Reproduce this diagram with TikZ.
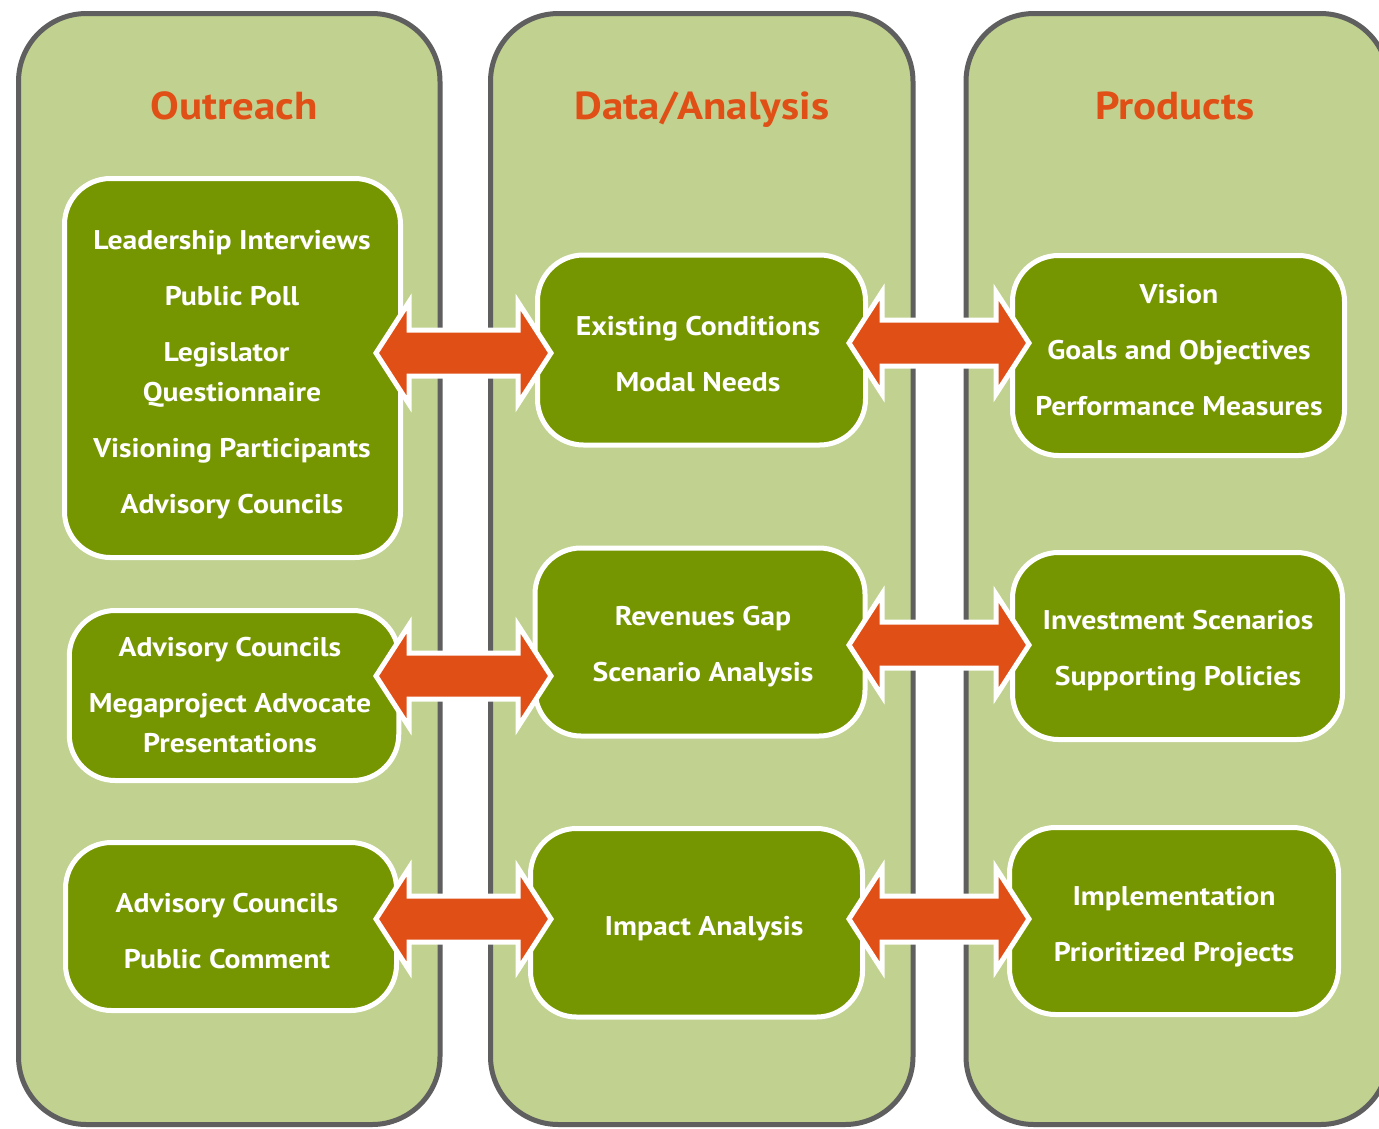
\documentclass[tikz,border=0pt]{standalone}
\usepackage{fontspec}
\setmainfont{PT Sans}[FakeStretch=1.1]
\usetikzlibrary{calc}
\definecolor{colbg}{RGB}{193,209,143}
\definecolor{boxgreen}{RGB}{117,150,0}
\definecolor{arrorange}{RGB}{224,79,22}
\definecolor{bordergray}{RGB}{95,95,95}
\tikzset{
 column/.style={draw=bordergray, line width=5pt, fill=colbg, rounded corners=68pt, inner sep=0pt},
 coltitle/.style={text=arrorange, font=\bfseries\fontsize{39}{39}\selectfont, inner sep=0pt, anchor=base},
 itembox/.style={draw=white, line width=5pt, fill=boxgreen, rounded corners=46pt, inner sep=0pt},
 itemtext/.style={text=white, align=center, font=\bfseries\fontsize{27}{40}\selectfont, inner sep=0pt, anchor=center},
 bigarrow/.style={draw=white, line width=5pt, fill=arrorange, line join=miter},
}
\newcommand{\Tx}[1]{\rule{0pt}{23.9pt}#1\rule[-5pt]{0pt}{5pt}}
\newcommand{\dblarr}[2]{\draw[bigarrow] (#1) -- ++(33,-51) -- ++(0,28) -- ($(#2)+(-33,-23)$) -- ++(0,-28) -- (#2) -- ++(-33,51) -- ++(0,-28) -- ($(#1)+(33,23)$) -- ++(0,28) -- cycle;}
\begin{document}
\begin{tikzpicture}[x=1pt,y=-1pt]
\useasboundingbox (0,0) rectangle (1379,1128);
\fill[white] (0,0) rectangle (1379,1128);
% columns
\node[column, minimum width=421.5pt, minimum height=1111pt] (c1) at (229.25,569) {};
\node[column, minimum width=422.5pt, minimum height=1111pt] (c2) at (701.75,569) {};
\node[column, minimum width=422.5pt, minimum height=1111pt] (c3) at (1177.25,569) {};
% titles
\node[coltitle] (t1) at (234,119) {Outreach};
\node[coltitle] (t2) at (702,119) {Data/Analysis};
\node[coltitle] (t3) at (1175,119) {Products};
% boxes
\node[itembox, minimum width=336pt, minimum height=379pt] (o1) at (232.5,368) {};
\node[itembox, minimum width=329.5pt, minimum height=170pt] (o2) at (234,695.5) {};
\node[itembox, minimum width=331pt, minimum height=168pt] (o3) at (231,926.5) {};
\node[itembox, minimum width=328pt, minimum height=190pt] (d1) at (701.5,350) {};
\node[itembox, minimum width=330pt, minimum height=188pt] (d2) at (700,642) {};
\node[itembox, minimum width=332pt, minimum height=188.5pt] (d3) at (696.5,922.75) {};
\node[itembox, minimum width=332pt, minimum height=200pt] (p1) at (1178.5,355.5) {};
\node[itembox, minimum width=330pt, minimum height=187pt] (p2) at (1177.5,646) {};
\node[itembox, minimum width=329pt, minimum height=187pt] (p3) at (1174,921) {};
% box texts
\node[itemtext] (o1t) at (232,372) {\Tx{Leadership Interviews\\[16pt]Public Poll\\[16pt]Legislator\rule{11pt}{0pt}\\Questionnaire\\[16pt]Visioning Participants\\[16pt]Advisory Councils}};
\node[itemtext] (o2t) at (230,695) {\Tx{Advisory Councils\\[16pt]Megaproject Advocate\\Presentations}};
\node[itemtext] (o3t) at (227,931) {\Tx{Advisory Councils\\[16pt]Public Comment}};
\node[itemtext] (d1t) at (698,354) {\Tx{Existing Conditions\\[16pt]Modal Needs}};
\node[itemtext] (d2t) at (703,644) {\Tx{Revenues Gap\\[16pt]Scenario Analysis}};
\node[itemtext] (d3t) at (704,926) {\Tx{Impact Analysis}};
\node[itemtext] (p1t) at (1179,350) {\Tx{Vision\\[16pt]Goals and Objectives\\[16pt]Performance Measures}};
\node[itemtext] (p2t) at (1178,648) {\Tx{Investment Scenarios\\[16pt]Supporting Policies}};
\node[itemtext] (p3t) at (1174,924) {\Tx{Implementation\\[16pt]Prioritized Projects}};
% arrow tips
\coordinate (a1l) at (376,353); \coordinate (a1r) at (551,353);
\coordinate (b1l) at (849,343); \coordinate (b1r) at (1029,343);
\coordinate (a2l) at (376,676); \coordinate (a2r) at (551,676);
\coordinate (b2l) at (849,645); \coordinate (b2r) at (1029,645);
\coordinate (a3l) at (376,919); \coordinate (a3r) at (551,919);
\coordinate (b3l) at (849,919); \coordinate (b3r) at (1029,919);
\dblarr{a1l}{a1r}
\dblarr{b1l}{b1r}
\dblarr{a2l}{a2r}
\dblarr{b2l}{b2r}
\dblarr{a3l}{a3r}
\dblarr{b3l}{b3r}
\end{tikzpicture}
\end{document}
